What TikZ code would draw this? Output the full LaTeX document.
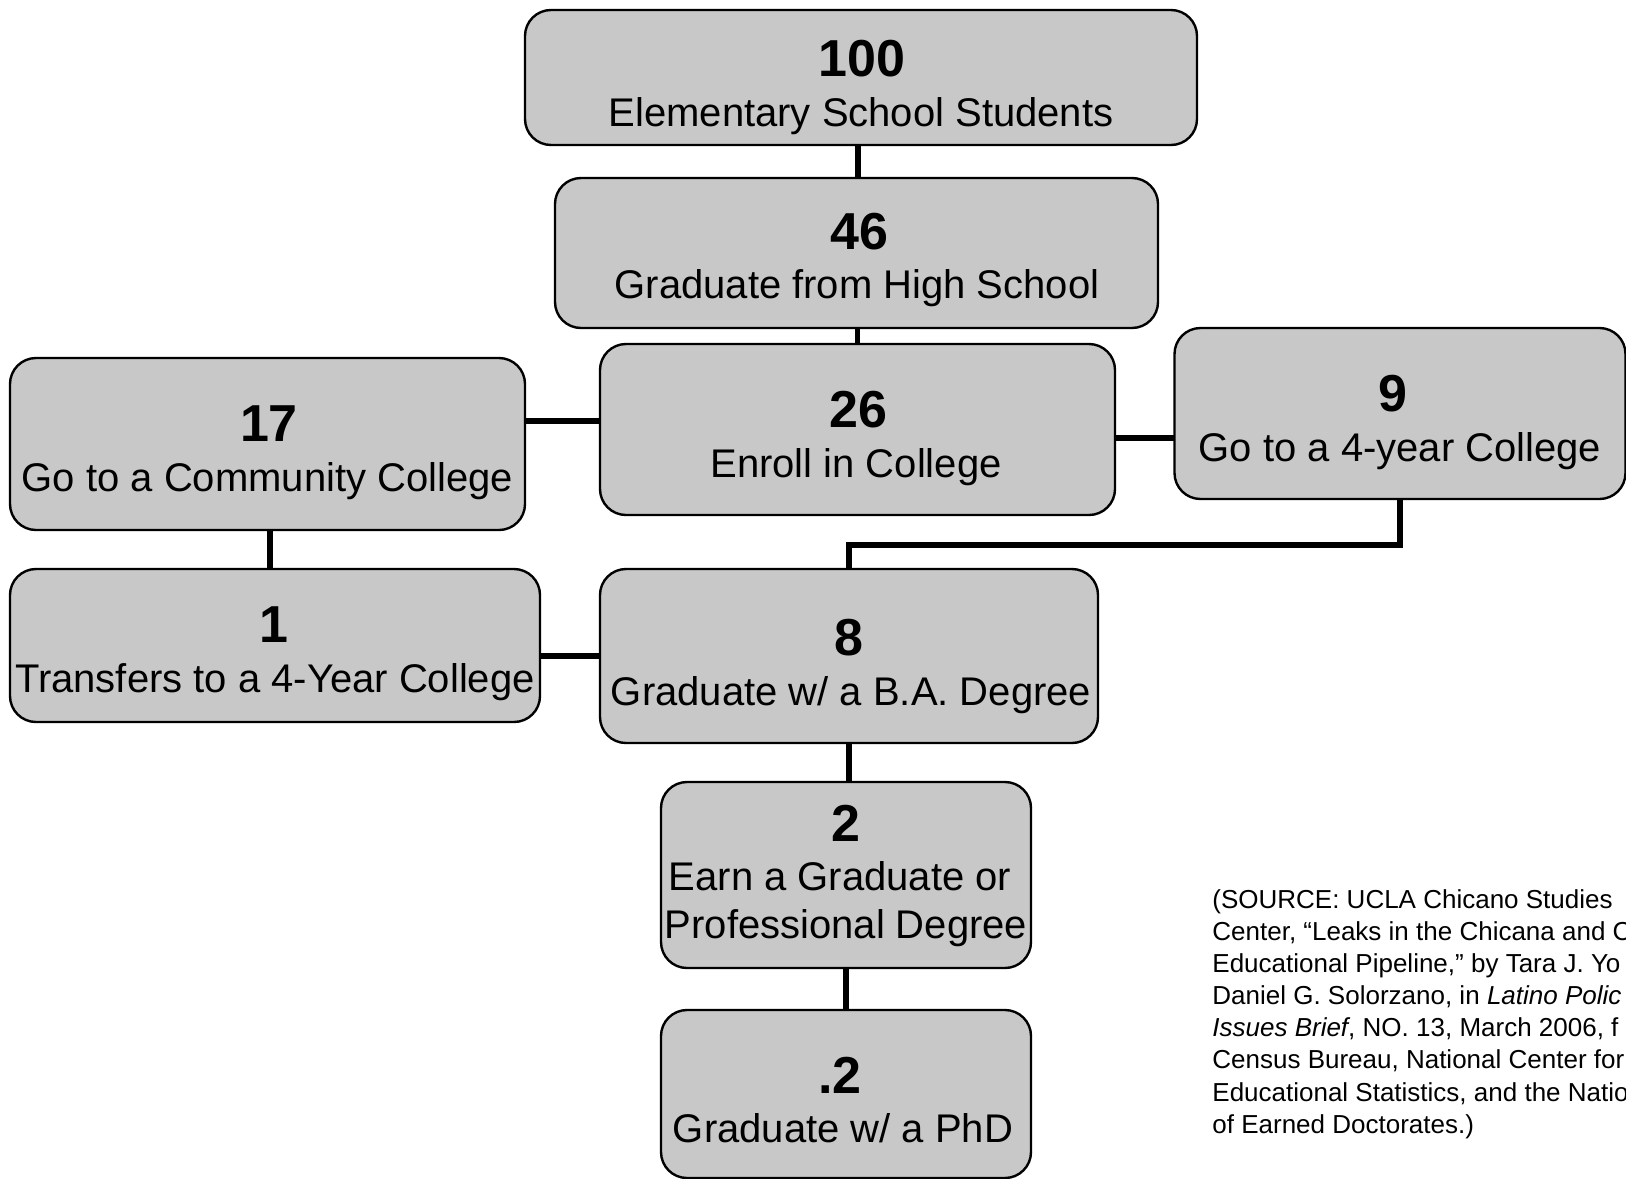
\documentclass[tikz,border=0pt]{standalone}
\usepackage{fontspec}
\setmainfont{Liberation Sans}
\definecolor{boxgray}{RGB}{200,200,200}
\begin{document}
\begin{tikzpicture}[x=0.5pt,y=-0.5pt,
  box/.style 2 args={draw=black, line width=1.2pt, fill=boxgray, rounded corners=13pt,
    minimum width=#1*0.5pt, minimum height=#2*0.5pt, inner sep=0pt, outer sep=0pt},
  conn/.style={line width=2.8pt, draw=black},
  num/.style={font=\fontsize{26}{30}\selectfont\bfseries, anchor=base, inner sep=0pt},
  lab/.style={font=\fontsize{20}{24}\selectfont, anchor=base, inner sep=0pt},
  src/.style={font=\fontsize{13}{16}\selectfont, anchor=base west, inner sep=0pt}]
\useasboundingbox (0,0) rectangle (1626,1178);
\clip (0,0) rectangle (1626,1178);

% boxes
\node[box={672}{135}] (A) at (861,77.5) {};
\node[box={603}{150}] (B) at (856.5,253) {};
\node[box={515}{171}] (C) at (857.5,429.5) {};
\node[box={515}{172}] (D) at (267.5,444) {};
\node[box={451}{171}] (E) at (1400,413.5) {};
\node[box={530}{153}] (F) at (275,645.5) {};
\node[box={498}{174}] (G) at (849,656) {};
\node[box={370}{186}] (H) at (846,875) {};
\node[box={370}{168}] (I) at (846,1094) {};

% connectors
\draw[conn, line width=3.2pt] (A.south -| 858,0) -- (B.north -| 858,0);
\draw[conn] (C.north |- B.south) -- (C.north);
\draw[conn] (D.east |- 0,421) -- (C.west |- 0,421);
\draw[conn] (C.east |- 0,438) -- (E.west |- 0,438);
\draw[conn] (D.south -| 270,0) -- (F.north -| 270,0);
\draw[conn] (F.east |- G.west) -- (G.west);
\draw[conn] (E.south) -- (E.south |- 0,545) -| (G.north);
\draw[conn] (G.south) -- (G.south |- H.north);
\draw[conn] (H.south) -- (I.north);

% texts
\node[num] (A1) at (862,76) {100};
\node[lab] (A2) at (861,126) {Elementary School Students};
\node[num] (B1) at (859,249) {46};
\node[lab] (B2) at (857,298) {Graduate from High School};
\node[num] (C1) at (858,427) {26};
\node[lab] (C2) at (856,477) {Enroll in College};
\node[num] (D1) at (269,441) {17};
\node[lab] (D2) at (267.5,491) {Go to a Community College};
\node[num] (E1) at (1393,411) {9};
\node[lab] (E2) at (1400,461) {Go to a 4-year College};
\node[num] (F1) at (274,642) {1};
\node[lab] (F2) at (275,692) {Transfers to a 4-Year College};
\node[num] (G1) at (849,655) {8};
\node[lab] (G2) at (851,705) {Graduate w/ a B.A. Degree};
\node[num] (H1) at (846,841) {2};
\node[lab] (H2) at (840,890) {Earn a Graduate or};
\node[lab] (H3) at (846,938) {Professional Degree};
\node[num] (I1) at (840,1093) {.2};
\node[lab] (I2) at (843,1142) {Graduate w/ a PhD};

% source
\node[src] (s1) at (1212,908) {(SOURCE: UCLA Chicano Studies};
\node[src] (s2) at (1212,940) {Center, “Leaks in the Chicana and C};
\node[src] (s3) at (1212,972) {Educational Pipeline,” by Tara J. Yo};
\node[src] (s4) at (1212,1004.5) {Daniel G. Solorzano, in \textit{Latino Polic}};
\node[src] (s5) at (1212,1036.5) {\textit{Issues Brief}, NO. 13, March 2006, f};
\node[src] (s6) at (1212,1068.5) {Census Bureau, National Center for};
\node[src] (s7) at (1212,1101) {Educational Statistics, and the Natio};
\node[src] (s8) at (1212,1133) {of Earned Doctorates.)};
\end{tikzpicture}
\end{document}
